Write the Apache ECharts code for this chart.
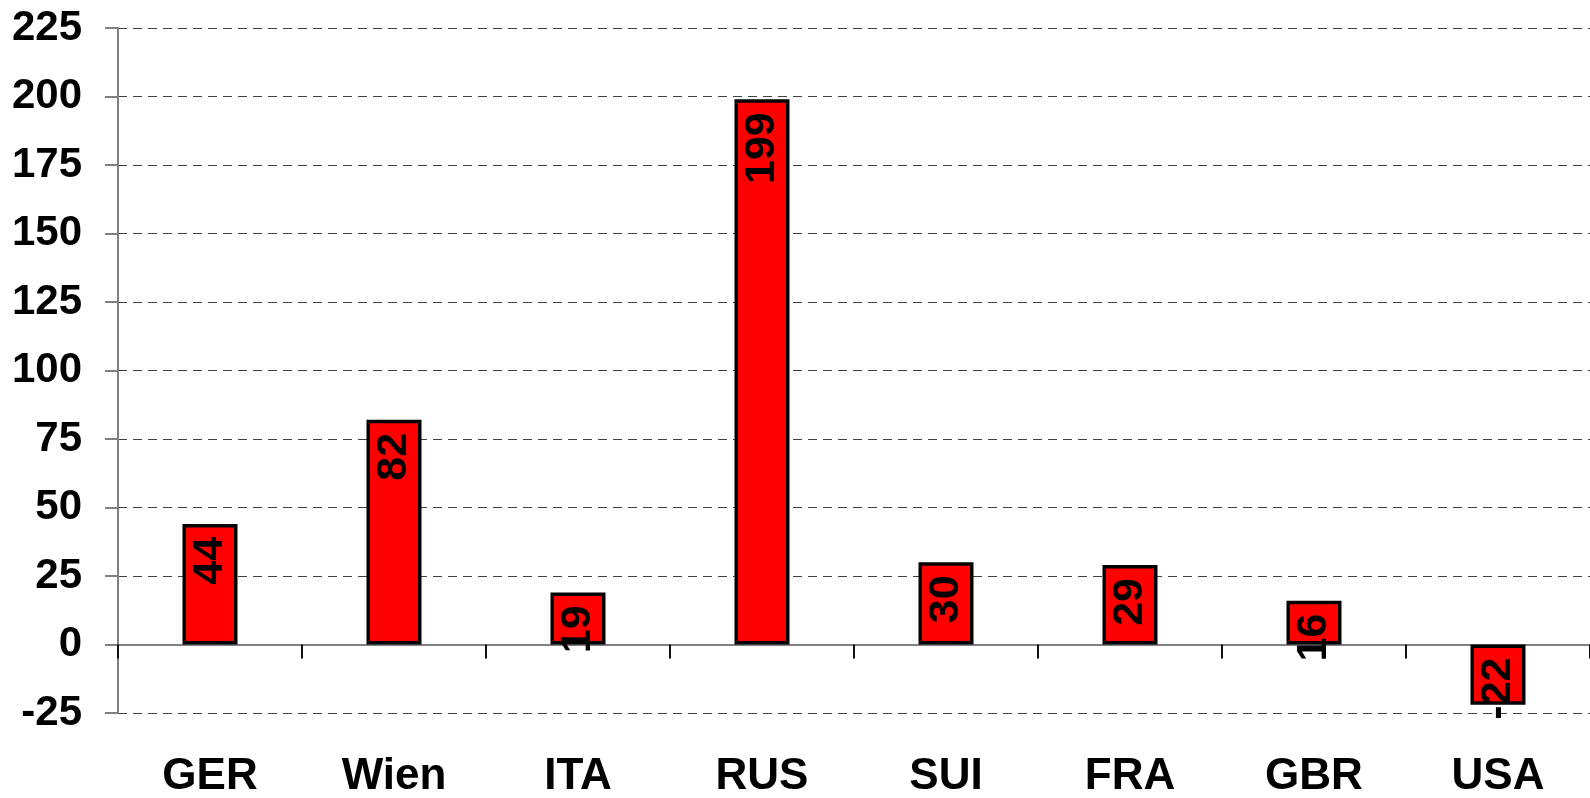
<!DOCTYPE html>
<html>
<head>
<meta charset="utf-8">
<script src="https://cdn.jsdelivr.net/npm/echarts@6/dist/echarts.min.js"></script>
<style>
html,body{margin:0;padding:0;background:#fff;}
#chart{width:1590px;height:798px;}
</style>
</head>
<body>
<div id="chart"></div>
<script>
const categories = ['GER', 'Wien', 'ITA', 'RUS', 'SUI', 'FRA', 'GBR', 'USA'];
const values = [44, 82, 19, 199, 30, 29, 16, -22];
const yMin = -25, yMax = 225, yStep = 25;

const FONT = '"Liberation Sans", Arial, sans-serif';
const splitColors = [];
for (let v = yMin; v <= yMax; v += yStep) splitColors.push(v === 0 ? 'rgba(0,0,0,0)' : '#404040');

const chart = echarts.init(document.getElementById('chart'));
chart.setOption({
  animation: false,
  backgroundColor: '#ffffff',
  grid: { left: 118, right: 0, top: 28, bottom: 85, containLabel: false, outerBoundsMode: 'none' },
  xAxis: {
    type: 'category',
    data: categories,
    axisLine: { show: true, onZero: true, lineStyle: { color: '#808080', width: 2 } },
    axisTick: { show: true, length: 14, lineStyle: { color: '#111', width: 2 } },
    axisLabel: { margin: 42, color: '#000', fontSize: 44, fontWeight: 'bold', fontFamily: FONT },
    splitLine: { show: false }
  },
  yAxis: {
    type: 'value',
    min: yMin, max: yMax, interval: yStep,
    axisLine: { show: true, lineStyle: { color: '#808080', width: 2 } },
    axisTick: { show: true, length: 13, lineStyle: { color: '#808080', width: 2 } },
    axisLabel: { margin: 36, color: '#000', fontSize: 42, fontWeight: 'bold', fontFamily: FONT },
    splitLine: { show: true, lineStyle: { color: splitColors, width: 1.2, type: [9, 6] } }
  },
  series: [{
    type: 'bar',
    data: values,
    barWidth: 55,
    itemStyle: { color: '#ff0000', borderColor: '#000', borderWidth: 3.5 },
    label: {
      show: true,
      position: 'insideTop',
      distance: 13,
      rotate: 90,
      align: 'right',
      verticalAlign: 'middle',
      color: '#000',
      fontSize: 43,
      fontWeight: 'bold',
      fontFamily: FONT
    }
  }]
});
</script>
</body>
</html>
